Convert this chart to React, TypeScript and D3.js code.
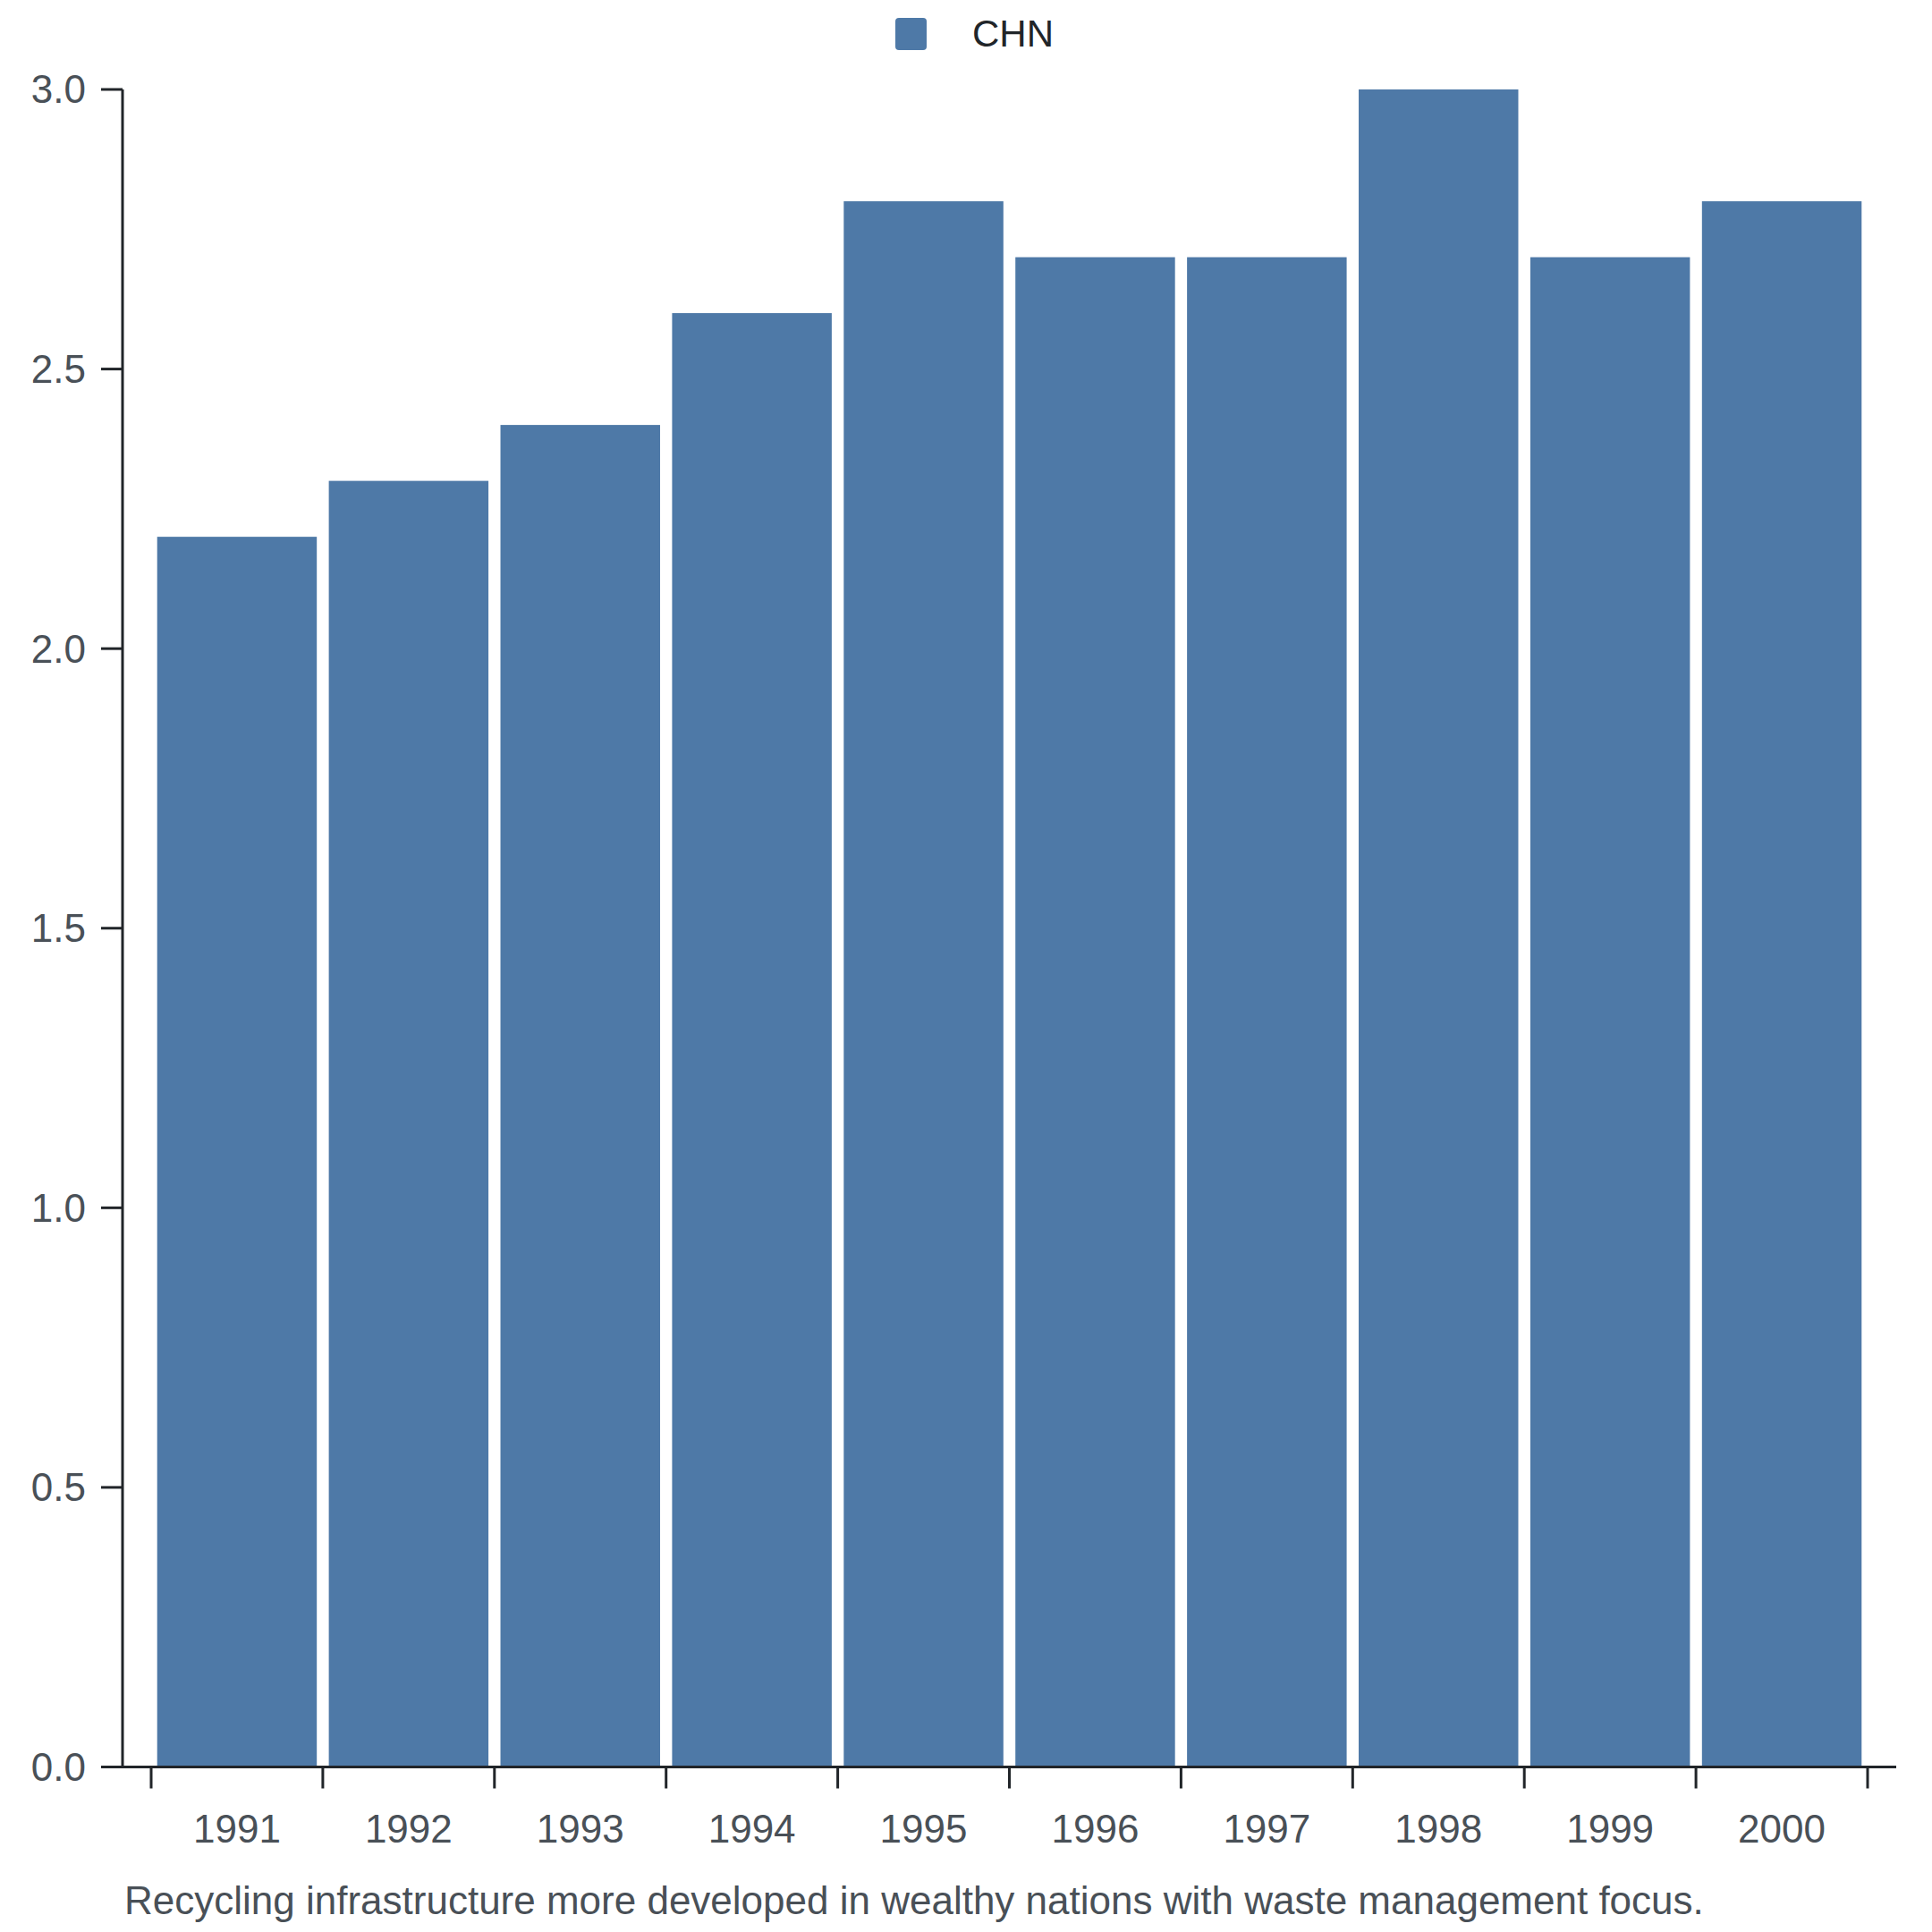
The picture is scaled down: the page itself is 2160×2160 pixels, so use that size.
import React from "react";
import * as d3 from "d3";

const years = ["1991", "1992", "1993", "1994", "1995", "1996", "1997", "1998", "1999", "2000"];
const values = [2.2, 2.3, 2.4, 2.6, 2.8, 2.7, 2.7, 3.0, 2.7, 2.8];
const yTicks = [0, 0.5, 1.0, 1.5, 2.0, 2.5, 3.0];
const seriesName = "CHN";
const caption = "Recycling infrastructure more developed in wealthy nations with waste management focus.";

const W = 2160;
const H = 2160;
const FONT = "'Liberation Sans', Arial, Helvetica, sans-serif";
const BAR = "#4e79a7";
const AXIS = "#212529";
const TEXT = "#495057";

export default function App() {
  const x = d3.scaleBand<string>().domain(years).range([169, 2088]).paddingInner(0.07).paddingOuter(0.035);
  const xEdges = d3.scaleLinear().domain([0, years.length]).range([169, 2088]);
  const y = d3.scaleLinear().domain([0, 3]).range([1975.5, 100]);
  const fmt = d3.format(".1f");
  const axisX0 = 113;
  const axisX1 = 2120;
  const yAxisX = 137;
  const y0 = y(0);

  return (
    <svg
      width={W}
      height={H}
      viewBox={`0 0 ${W} ${H}`}
      style={{ position: "absolute", left: 0, top: 0, background: "#fff" }}
      fontFamily={FONT}
    >
      <rect x={0} y={0} width={W} height={H} fill="#fff" />
      {/* legend */}
      <rect x={1001} y={20} width={35} height={36} rx={4} fill={BAR} />
      <text x={1087} y={52} fontSize={42} fill={AXIS}>
        {seriesName}
      </text>

      {/* bars */}
      {years.map((yr, i) => (
        <rect
          key={yr}
          x={x(yr)}
          y={y(values[i])}
          width={x.bandwidth()}
          height={y0 - y(values[i])}
          fill={BAR}
        />
      ))}

      {/* y axis */}
      <line x1={yAxisX} x2={yAxisX} y1={y(3)} y2={y0} stroke={AXIS} strokeWidth={3} />
      {yTicks.map((t) => (
        <g key={t} transform={`translate(0,${y(t)})`}>
          <line x1={yAxisX - 24} x2={yAxisX} y1={0} y2={0} stroke={AXIS} strokeWidth={3} />
          <text x={96} dy="0.35em" textAnchor="end" fontSize={44} fill={TEXT}>
            {fmt(t)}
          </text>
        </g>
      ))}

      {/* x axis */}
      <line x1={axisX0} x2={axisX1} y1={y0} y2={y0} stroke={AXIS} strokeWidth={3} />
      {d3.range(years.length + 1).map((i) => (
        <line
          key={"t" + i}
          x1={xEdges(i)}
          x2={xEdges(i)}
          y1={y0}
          y2={y0 + 24}
          stroke={AXIS}
          strokeWidth={3}
        />
      ))}
      {years.map((yr) => (
        <text
          key={"l" + yr}
          x={(x(yr) as number) + x.bandwidth() / 2}
          y={2060}
          textAnchor="middle"
          fontSize={44}
          fill={TEXT}
        >
          {yr}
        </text>
      ))}

      {/* caption */}
      <text x={139} y={2140} fontSize={44} fill={TEXT}>
        {caption}
      </text>
    </svg>
  );
}
